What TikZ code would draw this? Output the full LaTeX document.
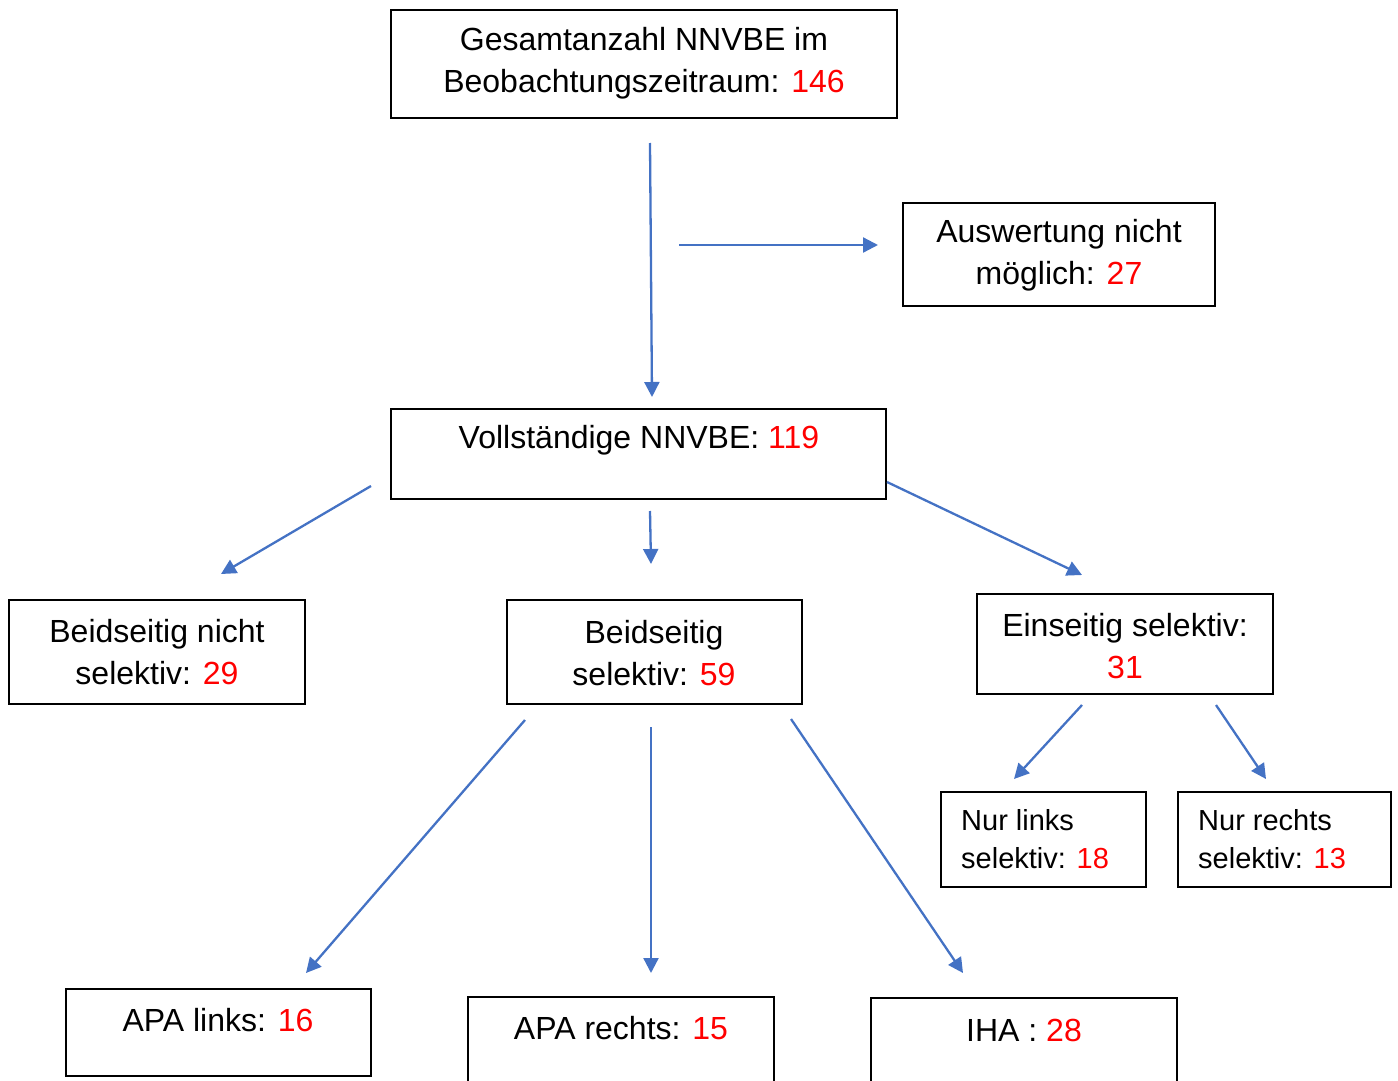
\documentclass[tikz,border=0pt]{standalone}
\usepackage{fontspec}
\setmainfont{Liberation Sans}
\usetikzlibrary{arrows.meta}
\definecolor{arrowblue}{HTML}{4472C4}
\definecolor{numred}{HTML}{FF0000}
\newcommand{\num}[1]{\textcolor{numred}{#1}}
\begin{document}
\begin{tikzpicture}[x=1pt,y=-1pt,
  boxst/.style={draw=black,line width=1.6pt,rectangle,inner sep=0pt},
  txt/.style={inner sep=0pt,align=center,font=\fontsize{32}{42}\selectfont},
  txtl/.style={inner sep=0pt,align=left,font=\fontsize{29}{38}\selectfont,anchor=west},
  arr/.style={draw=arrowblue,line width=2.3pt,-{Triangle[length=15pt,width=15pt]}}]
\useasboundingbox (0,0) rectangle (1398,1081);
\clip (0,0) rectangle (1398,1081);
% boxes
\draw[boxst] (391,10) rectangle (897,118);
\draw[boxst] (903,203) rectangle (1215,306);
\draw[boxst] (391,409) rectangle (886,499);
\draw[boxst] (9,600) rectangle (305,704);
\draw[boxst] (507,600) rectangle (802,704);
\draw[boxst] (977,594) rectangle (1273,694);
\draw[boxst] (941,792) rectangle (1146,887);
\draw[boxst] (1178,792) rectangle (1391,887);
\draw[boxst] (66,989) rectangle (371,1076);
\draw[boxst] (468,997) rectangle (774,1095);
\draw[boxst] (871,998) rectangle (1177,1095);
% texts
\node[txt] (t1) at (644,63) {Gesamtanzahl NNVBE im\\Beobachtungszeitraum: \num{146}};
\node[txt] (t2) at (1059,255) {Auswertung nicht\\möglich: \num{27}};
\node[txt] (t3) at (639,440) {Vollständige NNVBE: \num{119}};
\node[txt] (t4) at (157,652) {Beidseitig nicht\\selektiv: \num{29}};
\node[txt] (t5) at (654,653) {Beidseitig\\selektiv: \num{59}};
\node[txt] (t6) at (1125,646) {Einseitig selektiv:\\\num{31}};
\node[txtl] (t7) at (961,839) {Nur links\\selektiv: \num{18}};
\node[txtl] (t8) at (1198,839) {Nur rechts\\selektiv: \num{13}};
\node[txt] (t9) at (218,1020) {APA links: \num{16}};
\node[txt] (t10) at (621,1028) {APA rechts: \num{15}};
\node[txt] (t11) at (1024,1030) {IHA : \num{28}};
% arrow coordinates
\coordinate (a1s) at (650,143); \coordinate (a1e) at (652,397);
\coordinate (a2s) at (679,245); \coordinate (a2e) at (878,245);
\coordinate (a3s) at (371,486); \coordinate (a3e) at (221,574);
\coordinate (a4s) at (650,511); \coordinate (a4e) at (651,564);
\coordinate (a5s) at (887,482); \coordinate (a5e) at (1082,575);
\coordinate (a6s) at (1082,705); \coordinate (a6e) at (1014,779);
\coordinate (a7s) at (1216,705); \coordinate (a7e) at (1266,779);
\coordinate (a8s) at (525,720); \coordinate (a8e) at (306,973);
\coordinate (a9s) at (651,727); \coordinate (a9e) at (651,973);
\coordinate (a10s) at (791,719); \coordinate (a10e) at (963,973);
\foreach \i in {1,...,10} {\draw[arr] (a\i s) -- (a\i e);}
\end{tikzpicture}
\end{document}
